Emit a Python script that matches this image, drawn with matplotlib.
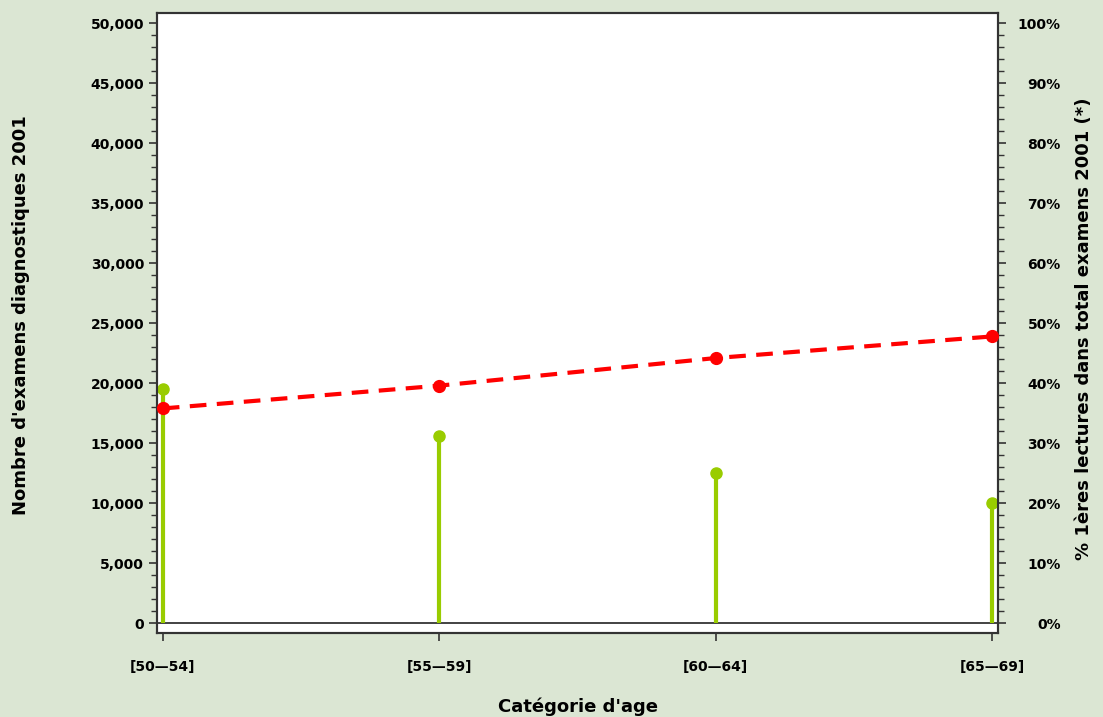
import numpy as np
import matplotlib
matplotlib.use('Agg')
import matplotlib.pyplot as plt
from matplotlib.ticker import FuncFormatter, MultipleLocator

# ── Données ────────────────────────────────────────────────────────────────────
categories = ['[50\u201454]', '[55\u201459]', '[60\u201464]', '[65\u201469]']
nb_examens = [19500, 15600, 12500, 10000]       # axe gauche (aiguilles vertes)
pct_lectures = [35.8, 39.6, 44.2, 47.8]          # axe droit (%), ligne rouge

fond = '#dbe6d3'
vert = '#99cc00'
rouge = '#ff0000'

plt.rcParams['font.family'] = 'DejaVu Sans'

fig = plt.figure(figsize=(11.03, 7.17), dpi=100, facecolor=fond)
ax = fig.add_axes([0.1426, 0.1176, 0.7625, 0.864])
ax.set_facecolor('white')
x = np.arange(len(categories))

# aiguilles
ax.vlines(x, 0, nb_examens, color=vert, lw=3, zorder=3)
ax.plot(x, nb_examens, 'o', color=vert, ms=8, zorder=4)
ax.axhline(0, color='#222222', lw=1.2, zorder=2)

ax.set_xlim(-0.02, 3.023)
ax.set_ylim(-780, 50830)
ax.set_xticks(x)
ax.set_xticklabels(categories, fontsize=10, fontweight='bold')
ax.yaxis.set_major_locator(MultipleLocator(5000))
ax.yaxis.set_minor_locator(MultipleLocator(1000))
ax.yaxis.set_major_formatter(FuncFormatter(lambda v, p: f'{int(v):,}'))
ax.tick_params(axis='y', which='major', length=6, width=1.2, labelsize=10, color='#333333')
ax.tick_params(axis='y', which='minor', length=4, width=1.0, color='#333333')
ax.tick_params(axis='x', length=6, width=1.2, labelsize=10, pad=14, color='#333333')
for lbl in ax.get_yticklabels():
    lbl.set_fontweight('bold')
ax.set_xlabel("Catégorie d'age", fontsize=13, fontweight='bold', va='center')
ax.xaxis.set_label_coords(0.5, -0.12)
ax.set_ylabel("Nombre d'examens diagnostiques 2001", fontsize=13,
              fontweight='bold', va='center', ha='center')
ax.yaxis.set_label_coords(-0.162, 0.513)

# axe droit
ax2 = ax.twinx()
ax2.set_ylim(-780 / 500, 50830 / 500)
ax2.plot(x, pct_lectures, color=rouge, lw=3, ls=(0, (4, 2.5)), zorder=5)
ax2.plot(x, pct_lectures, 'o', color=rouge, ms=8.5, zorder=6)
ax2.yaxis.set_major_locator(MultipleLocator(10))
ax2.yaxis.set_minor_locator(MultipleLocator(2))
ax2.yaxis.set_major_formatter(FuncFormatter(lambda v, p: f'{int(v)}%'))
ax2.tick_params(axis='y', which='major', length=6, width=1.2, labelsize=10,
                color='#333333', pad=39)
ax2.tick_params(axis='y', which='minor', length=4, width=1.0, color='#333333')
for lbl in ax2.get_yticklabels():
    lbl.set_fontweight('bold')
    lbl.set_horizontalalignment('right')
ax2.set_ylabel("% 1ères lectures dans total examens 2001 (*)", fontsize=13,
               fontweight='bold', rotation=90, va='center', ha='center')
ax2.yaxis.set_label_coords(1.102, 0.49)

for a in (ax, ax2):
    for s in a.spines.values():
        s.set_color('#333333')
        s.set_linewidth(1.5)

fig.savefig('out.png', dpi=100, facecolor=fond)
